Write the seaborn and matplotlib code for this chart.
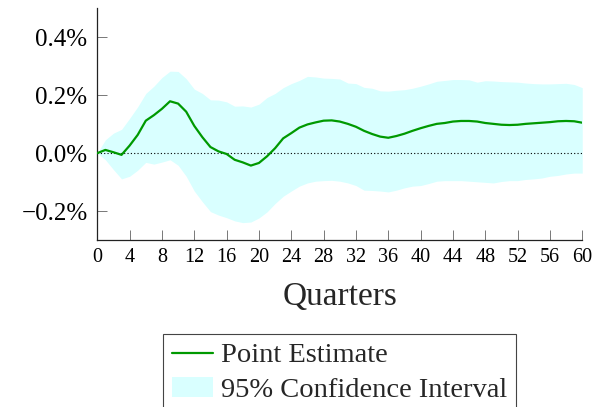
import numpy as np
import pandas as pd
import matplotlib
matplotlib.use("Agg")
import matplotlib.pyplot as plt
import seaborn as sns
from matplotlib.lines import Line2D
from matplotlib.patches import Patch

# Impulse response (percent) by quarter after the shock
quarters = list(range(61))
point_estimate = [
    0.000, 0.011, 0.003, -0.006, 0.026, 0.063, 0.112, 0.131, 0.153, 0.179,
    0.171, 0.143, 0.094, 0.055, 0.021, 0.006, -0.003, -0.023, -0.032, -0.043,
    -0.034, -0.011, 0.017, 0.051, 0.069, 0.088, 0.099, 0.106, 0.112, 0.113,
    0.109, 0.101, 0.091, 0.077, 0.066, 0.057, 0.053, 0.059, 0.067, 0.077,
    0.086, 0.094, 0.101, 0.104, 0.109, 0.111, 0.111, 0.109, 0.104, 0.101,
    0.098, 0.097, 0.098, 0.101, 0.103, 0.105, 0.107, 0.110, 0.111, 0.110,
    0.105,
]
ci_upper = [
    0.000, 0.046, 0.069, 0.082, 0.120, 0.160, 0.206, 0.231, 0.261, 0.283,
    0.282, 0.257, 0.221, 0.206, 0.184, 0.183, 0.177, 0.162, 0.163, 0.159,
    0.169, 0.192, 0.206, 0.226, 0.240, 0.251, 0.265, 0.263, 0.259, 0.258,
    0.256, 0.242, 0.240, 0.227, 0.224, 0.215, 0.214, 0.217, 0.219, 0.224,
    0.231, 0.239, 0.248, 0.251, 0.254, 0.254, 0.253, 0.245, 0.250, 0.249,
    0.247, 0.246, 0.245, 0.242, 0.240, 0.239, 0.239, 0.240, 0.241, 0.237,
    0.226,
]
ci_lower = [
    0.000, -0.023, -0.057, -0.089, -0.080, -0.059, -0.032, -0.038, -0.031, -0.023,
    -0.042, -0.080, -0.131, -0.168, -0.202, -0.214, -0.223, -0.234, -0.240, -0.238,
    -0.224, -0.203, -0.174, -0.149, -0.131, -0.114, -0.103, -0.097, -0.095, -0.094,
    -0.097, -0.103, -0.112, -0.128, -0.129, -0.131, -0.134, -0.128, -0.120, -0.114,
    -0.112, -0.105, -0.097, -0.095, -0.095, -0.095, -0.097, -0.099, -0.101, -0.103,
    -0.098, -0.095, -0.095, -0.091, -0.089, -0.086, -0.080, -0.077, -0.072, -0.069,
    -0.069,
]
x_ticks = list(range(0, 61, 4))
y_ticks = [-0.2, 0.0, 0.2, 0.4]
y_tick_labels = ["\u22120.2%", "0.0%", "0.2%", "0.4%"]

line_color = "#009900"
band_color = "#d9ffff"

sns.set_theme(style="ticks")
plt.rcParams["font.family"] = ["Liberation Serif", "DejaVu Serif"]

df = pd.DataFrame({"quarter": quarters, "estimate": point_estimate,
                   "lower": ci_lower, "upper": ci_upper})

fig = plt.figure(figsize=(6.02, 4.07), dpi=100)
ax = fig.add_axes([0.1616, 0.4103, 0.8056, 0.5693])

ax.fill_between(df["quarter"], df["lower"], df["upper"], color=band_color,
                linewidth=0, zorder=1)
ax.axhline(0, color="black", linestyle=(0, (1, 2)), linewidth=0.8, zorder=2)
sns.lineplot(data=df, x="quarter", y="estimate", ax=ax, color=line_color,
             linewidth=1.6, zorder=3, legend=False)

ax.set_xlim(0, 60)
ax.set_ylim(-0.3, 0.5)
ax.set_xticks(x_ticks)
ax.set_xticklabels([str(t) for t in x_ticks], fontsize=14.5)
ax.set_yticks(y_ticks)
ax.set_yticklabels(y_tick_labels, fontsize=18)
ax.set_xlabel("Quarters", fontsize=24, labelpad=10)
ax.set_ylabel("")

for side in ("top", "right"):
    ax.spines[side].set_visible(False)
for side in ("left", "bottom"):
    ax.spines[side].set_color("#222222")
    ax.spines[side].set_linewidth(0.9)
ax.tick_params(axis="both", direction="in", length=7, width=0.7,
               color="#777777", labelcolor="black")
ax.tick_params(axis="x", pad=6)
ax.tick_params(axis="y", pad=7)

handles = [
    Line2D([], [], color=line_color, linewidth=1.6),
    Patch(facecolor=band_color, edgecolor="none"),
]
labels = ["Point Estimate", "95% Confidence Interval"]
leg = fig.legend(handles, labels, loc="upper left",
                 bbox_to_anchor=(163 / 602, 1 - 334 / 407),
                 fontsize=20.5, frameon=True, fancybox=False,
                 edgecolor="#444444", framealpha=1,
                 handlelength=1.45, handletextpad=0.3, labelspacing=0.3,
                 borderpad=0.3, borderaxespad=0)
leg.get_frame().set_linewidth(0.8)

fig.savefig("out.png", dpi=100)
